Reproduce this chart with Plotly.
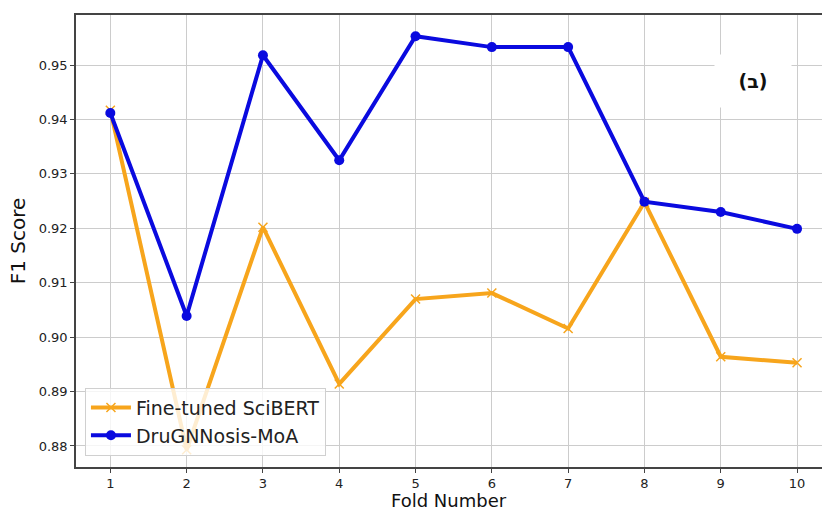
import plotly.graph_objects as go

folds = [1, 2, 3, 4, 5, 6, 7, 8, 9, 10]
scibert_f1 = [0.9417, 0.8793, 0.9202, 0.8914, 0.9070, 0.9081, 0.9016, 0.9248, 0.8964, 0.8953]
drugnnosis_f1 = [0.9412, 0.9039, 0.9518, 0.9325, 0.9553, 0.9533, 0.9533, 0.9249, 0.9230, 0.9199]
y_ticks = [0.88, 0.89, 0.90, 0.91, 0.92, 0.93, 0.94, 0.95]
y_tick_labels = ["0.88", "0.89", "0.90", "0.91", "0.92", "0.93", "0.94", "0.95"]

ORANGE = "#F7A51C"
BLUE = "#0A0ADF"
FONT = "DejaVu Sans"

fig = go.Figure()
fig.add_trace(go.Scatter(
    x=folds, y=scibert_f1, mode="lines+markers", name="Fine-tuned SciBERT",
    line=dict(color=ORANGE, width=4),
    marker=dict(symbol="x-thin", size=9, color=ORANGE, line=dict(color=ORANGE, width=1.5)),
))
fig.add_trace(go.Scatter(
    x=folds, y=drugnnosis_f1, mode="lines+markers", name="DruGNNosis-MoA",
    line=dict(color=BLUE, width=4),
    marker=dict(symbol="circle", size=10, color=BLUE),
))

fig.add_annotation(
    xref="paper", yref="paper", x=0.908, y=0.855,
    text="<b>(ב)</b>", showarrow=False,
    font=dict(family=FONT, size=19, color="#111111"),
    bgcolor="white", width=60, height=36, borderpad=8,
    xanchor="center", yanchor="middle",
)

# x-axis title placed just below the tick labels
fig.add_annotation(
    xref="paper", yref="paper", x=0.5, y=-0.0735,
    text="Fold Number", showarrow=False,
    font=dict(family=FONT, size=18, color="#111111"),
    xanchor="center", yanchor="middle",
)

fig.update_layout(
    width=822, height=512,
    margin=dict(l=76, r=0, t=15, b=45),
    plot_bgcolor="white", paper_bgcolor="white",
    font=dict(family=FONT, color="#222222"),
    showlegend=True,
    legend=dict(
        x=0.012, y=0.025, xanchor="left", yanchor="bottom",
        bgcolor="rgba(255,255,255,0.8)", bordercolor="#d0d0d0", borderwidth=1,
        font=dict(family=FONT, size=19, color="#222222"),
        itemwidth=40, tracegroupgap=0,
    ),
    xaxis=dict(
        range=[0.55, 10.327], tickmode="array", tickvals=folds,
        ticktext=[str(f) for f in folds],
        showgrid=True, gridcolor="#cccccc", gridwidth=1,
        showline=True, linecolor="#444444", linewidth=1.5, mirror=True,
        ticks="outside", ticklen=4, tickcolor="#444444",
        tickfont=dict(family=FONT, size=13, color="#222222"),
        zeroline=False,
    ),
    yaxis=dict(
        range=[0.87614, 0.9592], tickmode="array", tickvals=y_ticks, ticktext=y_tick_labels,
        showgrid=True, gridcolor="#cccccc", gridwidth=1,
        showline=True, linecolor="#444444", linewidth=1.5, mirror=False,
        ticks="outside", ticklen=4, tickcolor="#444444",
        tickfont=dict(family=FONT, size=13, color="#222222"),
        title=dict(text="F1 Score", font=dict(family=FONT, size=20, color="#111111"), standoff=8),
        zeroline=False,
    ),
)

fig.write_html("out.html")
